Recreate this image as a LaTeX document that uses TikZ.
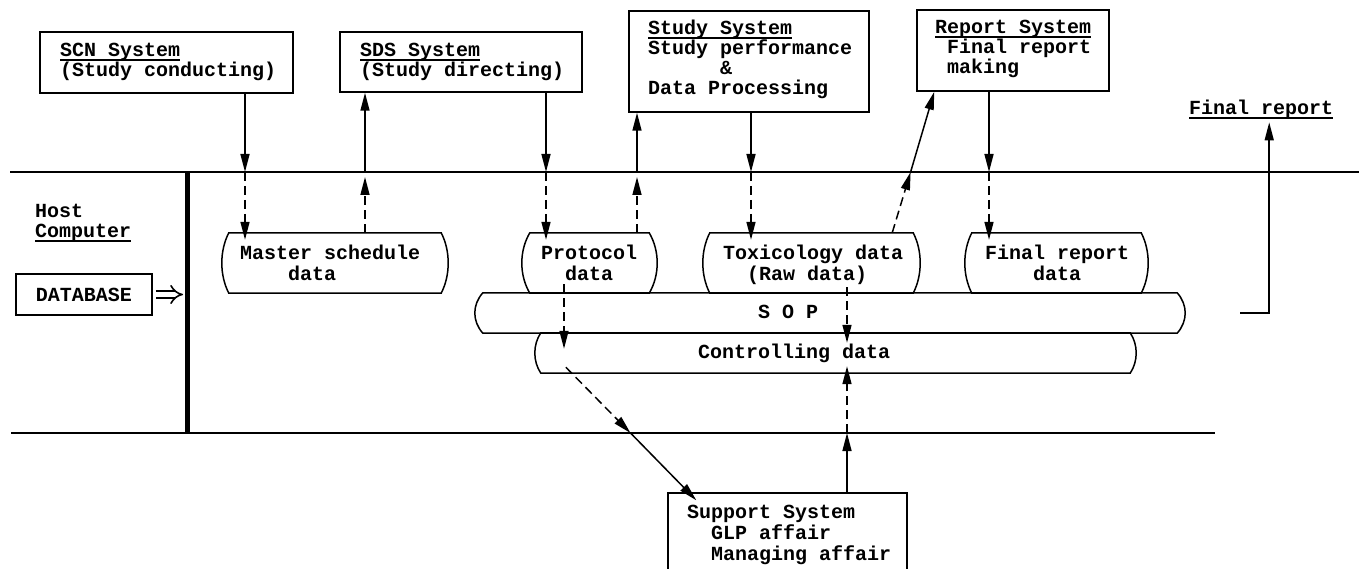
\documentclass[tikz,border=0pt]{standalone}
\usepackage{fontspec}
\setmonofont{Liberation Mono}
\usetikzlibrary{arrows.meta,calc}

% underline drawn as a heavy rule a little below the baseline
\newlength\ulwidth
\newcommand\ulined[1]{\settowidth\ulwidth{#1}\rlap{\rule[-4pt]{\ulwidth}{1.5pt}}#1}
% leading blank columns of the 12pt-wide monospaced font
\newcommand\indentby[1]{\hspace*{\numexpr#1*12\relax pt}}

% data store outline: straight top and bottom, sides bulging outwards
\newcommand\barrel[2]{%
  \draw[ln] ($(#1.north west)+(#2,0)$) -- ($(#1.north east)+(-#2,0)$)
    .. controls ($(#1.north east)!0.3!(#1.south east)+(#2/3,0)$)
           and ($(#1.north east)!0.7!(#1.south east)+(#2/3,0)$) ..
    ($(#1.south east)+(-#2,0)$)
    -- ($(#1.south west)+(#2,0)$)
    .. controls ($(#1.north west)!0.7!(#1.south west)+(-#2/3,0)$)
           and ($(#1.north west)!0.3!(#1.south west)+(-#2/3,0)$) ..
    cycle;}

% text nodes are placed by the baseline of their last line
\tikzset{
  ln/.style={line width=1.5pt},
  sysbox/.style={draw, line width=1.5pt, inner sep=0pt},
  store/.style={inner sep=0pt, minimum height=60pt},
  txt/.style={font=\ttfamily\bfseries\fontsize{20}{20}\selectfont,
              inner sep=0pt, align=left, anchor=base west},
  stxt/.style={txt, font=\ttfamily\bfseries\fontsize{20}{21}\selectfont},
  flow/.style={ln, -{Triangle[length=18pt,width=9pt]}},
  dflow/.style={flow, dash pattern=on 9pt off 5pt},
}

\begin{document}
\begin{tikzpicture}[x=1pt,y=-1pt]
\useasboundingbox (0,0) rectangle (1359,569);

% ---- frame lines of the host computer area
\coordinate (tl0) at (10,172);   \coordinate (tl1) at (1359,172);
\coordinate (bl0) at (11,433);   \coordinate (bl1) at (1215,433);
\coordinate (hv0) at (187,172);  \coordinate (hv1) at (187,433);
\draw[ln] (tl0) -- (tl1);
\draw[ln] (bl0) -- (bl1);
\draw[line width=5pt] (hv0) -- (hv1);

% ---- system boxes
\node[sysbox, minimum width=253pt, minimum height=61pt]  (scn)    at (166.5,62.5) {};
\node[sysbox, minimum width=242pt, minimum height=60pt]  (sds)    at (461,62)     {};
\node[sysbox, minimum width=240pt, minimum height=101pt] (study)  at (749,61.5)   {};
\node[sysbox, minimum width=192pt, minimum height=81pt]  (report) at (1013,50.5)  {};
\node[sysbox, minimum width=239pt, minimum height=79pt]  (sup)    at (787.5,532.5){};
\node[sysbox, minimum width=136pt, minimum height=41pt]  (db)     at (84,294.5)   {};

\node[txt] (scnT)   at (60,77)   {\ulined{SCN System}\\(Study conducting)};
\node[txt] (sdsT)   at (360,77)  {\ulined{SDS System}\\(Study directing)};
\node[txt] (studyT) at (648,95)  {\ulined{Study System}\\Study performance\\\indentby{6}\&\\Data Processing};
\node[txt] (repT)   at (935,74)  {\ulined{Report System}\\\indentby{1}Final report\\\indentby{1}making};
\node[stxt] (supT)  at (687,560) {Support System\\\indentby{2}GLP affair\\\indentby{2}Managing affair};
\node[txt] (frT)    at (1189,115){\ulined{Final report}};
\node[txt] (hostT)  at (35,238)  {Host\\\ulined{Computer}};
\node[txt, anchor=center] (dbT) at (db.center) {DATABASE};

% ---- data stores
\node[store, minimum width=226pt] (ms)  at (335,263)    {};
\node[store, minimum width=135pt] (pr)  at (589.5,263)  {};
\node[store, minimum width=217pt] (tx)  at (811.5,263)  {};
\node[store, minimum width=183pt] (frd) at (1056.5,263) {};
\node[store, minimum width=710pt, minimum height=40pt] (sop) at (830,313)   {};
\node[store, minimum width=601pt, minimum height=40pt] (cd)  at (835.5,353) {};
\barrel{ms}{7}
\barrel{pr}{8}
\barrel{tx}{7}
\barrel{frd}{7}
\barrel{sop}{8}
\barrel{cd}{6}

\node[stxt] (msT)  at (240,280) {Master schedule\\\indentby{4}data};
\node[stxt] (prT)  at (541,280) {Protocol\\\indentby{2}data};
\node[stxt] (txT)  at (723,280) {Toxicology data\\\indentby{2}(Raw data)};
\node[stxt] (frdT) at (985,280) {Final report\\\indentby{4}data};
\node[stxt] (sopT) at (758,318) {S O P};
\node[stxt] (cdT)  at (698,358) {Controlling data};

% ---- database feeds the host
\draw[double, double distance=5pt, line width=1.6pt, -{Implies[scale=1.2]}]
  ($(db.east)+(3,0)$) -- ($(db.east -| hv0)+(-4,0)$);

% ---- exchanges across the upper boundary
\coordinate (a1) at (245,172);
\draw[flow]  (scn.south -| a1) -- (a1);
\draw[dflow] (a1) -- ($(ms.north -| a1)+(0,7)$);

\coordinate (a2) at (365,172);
\draw[dflow] (ms.north -| a2) -- ($(a2)+(0,5)$);
\draw[flow]  (a2) -- (sds.south -| a2);

\coordinate (a3) at (546,172);
\draw[flow]  (sds.south -| a3) -- (a3);
\draw[dflow] (a3) -- ($(pr.north -| a3)+(0,7)$);

\coordinate (a4) at (637,172);
\draw[dflow] (pr.north -| a4) -- ($(a4)+(0,5)$);
\draw[flow]  (a4) -- (study.south -| a4);

\coordinate (a5) at (751,172);
\draw[flow]  (study.south -| a5) -- (a5);
\draw[dflow] (a5) -- ($(tx.north -| a5)+(0,7)$);

\coordinate (a6) at (910.6,172);
\draw[dflow] ($(tx.north east)+(-28,0)$) -- (a6);
\draw[flow]  (a6) -- ($(report.south west)+(18,0)$);

\coordinate (a7) at (989,172);
\draw[flow]  (report.south -| a7) -- (a7);
\draw[dflow] (a7) -- ($(frd.north -| a7)+(0,7)$);

% ---- stores into the controlling data
\coordinate (p1) at ($(pr.south)+(-25.5,-9)$);
\draw[dflow] (p1) -- ($(p1 |- cd.north)+(0,16)$);
\coordinate (t1) at ($(tx.south)+(35.5,-6)$);
\draw[dflow] (t1) -- ($(t1 |- cd.north)+(0,10)$);

% ---- exchanges across the lower boundary
\coordinate (b1) at (630.5,433);
\draw[dflow] ($(cd.south west)+(31,-6)$) -- (b1);
\draw[flow]  (b1) -- ($(sup.north west)+(29,8)$);

\coordinate (b2) at (847,433);
\draw[flow]  (sup.north -| b2) -- (b2);
\draw[dflow] (b2) -- ($(cd.south -| b2)+(0,-7)$);

% ---- final report leaves the host
\coordinate (f0) at (1240,313);
\draw[flow] (f0) -| ($(frT.south)+(8,3)$);
\end{tikzpicture}
\end{document}
